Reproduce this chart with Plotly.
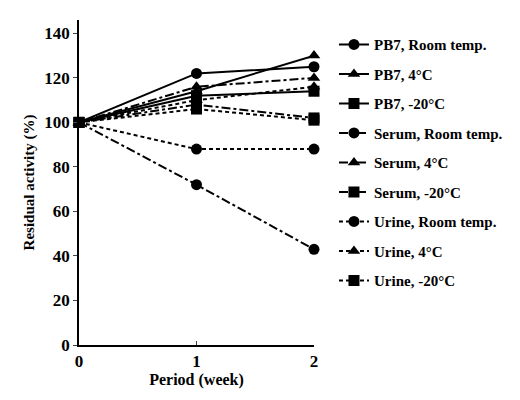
import plotly.graph_objects as go

weeks = [0, 1, 2]
series_names = [
    "PB7, Room temp.", "PB7, 4°C", "PB7, -20°C",
    "Serum, Room temp.", "Serum, 4°C", "Serum, -20°C",
    "Urine, Room temp.", "Urine, 4°C", "Urine, -20°C",
]
pb7_rt = [100, 122, 125]
pb7_4 = [100, 114, 130]
pb7_m20 = [100, 112, 114]
serum_rt = [100, 72, 43]
serum_4 = [100, 116, 120]
serum_m20 = [100, 108, 102]
urine_rt = [100, 88, 88]
urine_4 = [100, 110, 116]
urine_m20 = [100, 106, 101]
series_values = [pb7_rt, pb7_4, pb7_m20, serum_rt, serum_4, serum_m20,
                 urine_rt, urine_4, urine_m20]
y_ticks = [0, 20, 40, 60, 80, 100, 120, 140]
x_ticks = [0, 1, 2]

symbols = ["circle", "triangle-up", "square"] * 3
dashes = ["solid"] * 3 + ["dashdot"] * 3 + ["4px,3px"] * 3

font_family = "Liberation Serif"
fig = go.Figure()
for i, (name, vals) in enumerate(zip(series_names, series_values)):
    fig.add_trace(go.Scatter(
        x=weeks, y=vals, name=name, mode="lines+markers",
        line=dict(color="black", width=2, dash=dashes[i]),
        marker=dict(symbol=symbols[i], size=11, color="black"),
        cliponaxis=False, legendgroup=f"g{i}",
    ))

fig.update_layout(
    width=520, height=400,
    margin=dict(l=79, r=203, t=20, b=55),
    paper_bgcolor="white", plot_bgcolor="white",
    font=dict(family=font_family, color="black"),
    showlegend=True,
    legend=dict(x=1.085, y=0.975, xanchor="left", yanchor="top",
                font=dict(size=15, family=font_family, weight="bold"),
                tracegroupgap=7, itemwidth=30, bgcolor="rgba(0,0,0,0)"),
    xaxis=dict(range=[0, 2], tickvals=x_ticks, ticks="inside", ticklen=4,
               showline=True, linecolor="black", linewidth=1.5, showgrid=False,
               zeroline=False, tickfont=dict(size=17, weight="bold"),
               title=dict(text="Period (week)", font=dict(size=16, weight="bold"),
                          standoff=4)),
    yaxis=dict(range=[0, 146], tickvals=y_ticks, ticks="outside", ticklen=4,
               showline=True, linecolor="black", linewidth=1.5, showgrid=False,
               zeroline=False, tickfont=dict(size=17, weight="bold"),
               title=dict(text="Residual activity (%)", font=dict(size=15, weight="bold"),
                          standoff=6)),
)
fig.write_html("out.html")
